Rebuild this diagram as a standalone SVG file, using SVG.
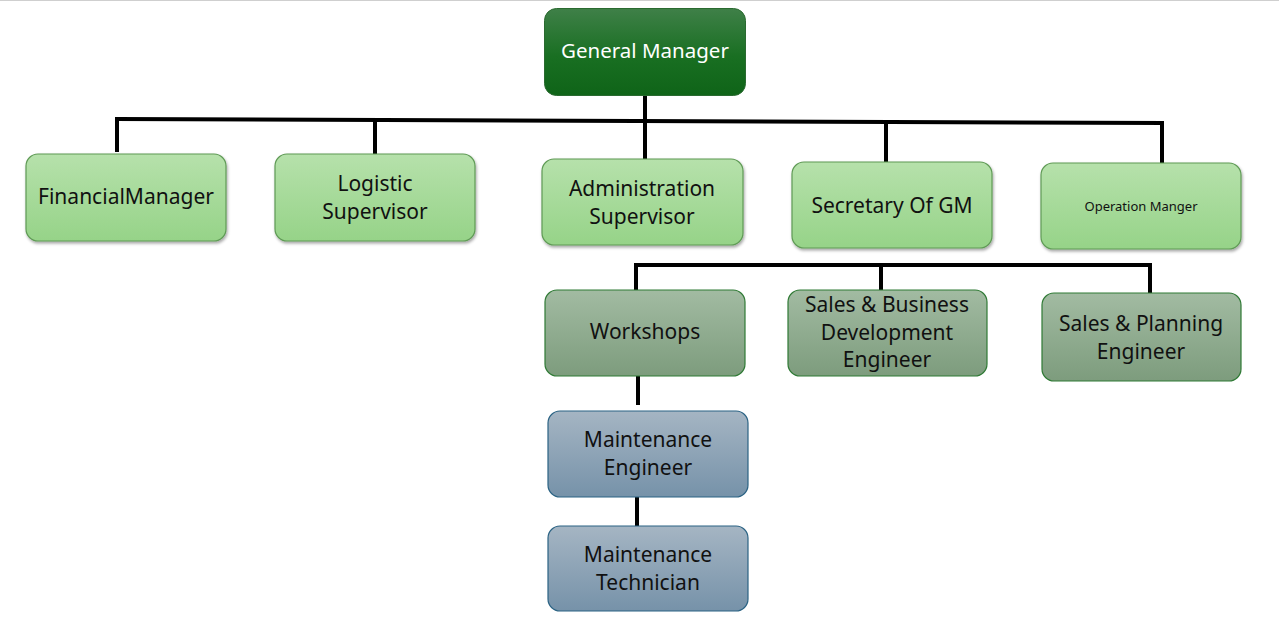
<svg xmlns="http://www.w3.org/2000/svg" width="1279" height="628" viewBox="0 0 1279 628">
<defs>
<linearGradient id="gDark" x1="0" y1="0" x2="0" y2="1"><stop offset="0" stop-color="#3f8048"/><stop offset="0.55" stop-color="#196f22"/><stop offset="1" stop-color="#0f6418"/></linearGradient>
<linearGradient id="gLight" x1="0" y1="0" x2="0" y2="1"><stop offset="0" stop-color="#b6e1ab"/><stop offset="1" stop-color="#96d388"/></linearGradient>
<linearGradient id="gSage" x1="0" y1="0" x2="0" y2="1"><stop offset="0" stop-color="#a2bba2"/><stop offset="1" stop-color="#7d9c7d"/></linearGradient>
<linearGradient id="gBlue" x1="0" y1="0" x2="0" y2="1"><stop offset="0" stop-color="#a5b5c3"/><stop offset="1" stop-color="#7692a9"/></linearGradient>
<filter id="sh" x="-10%" y="-10%" width="120%" height="130%"><feDropShadow dx="1" dy="2" stdDeviation="1.5" flood-color="#000" flood-opacity="0.35"/></filter>
</defs>
<style>
text{font-family:"Noto Sans","Open Sans","Liberation Sans",sans-serif;font-size:21px;fill:#111;text-anchor:middle}
.dark rect{fill:url(#gDark);stroke:#2a6a30;stroke-width:1}
.dark text{fill:#fff}
.light rect{fill:url(#gLight);stroke:#5f9a55;stroke-width:1.2;filter:url(#sh)}
.sage rect{fill:url(#gSage);stroke:#2f7a35;stroke-width:1.2}
.blue rect{fill:url(#gBlue);stroke:#2b6384;stroke-width:1.2}
.conn line{stroke:#000;stroke-width:4;stroke-linecap:square}
</style>
<rect x="0" y="0" width="1279" height="628" fill="#fff"/>
<line x1="0" y1="0.5" x2="1279" y2="0.5" stroke="#cfcfcf" stroke-width="1"/>
<g id="connectors" class="conn">
<line x1="645" y1="96" x2="645" y2="120"/>
<line x1="117" y1="119" x2="1162" y2="123"/>
<line x1="117" y1="119" x2="117" y2="150"/>
<line x1="375" y1="120" x2="375" y2="153"/>
<line x1="645" y1="120" x2="645" y2="158"/>
<line x1="886" y1="122" x2="886" y2="161"/>
<line x1="1162" y1="123" x2="1162" y2="161"/>
<line x1="636" y1="265" x2="1150" y2="265"/>
<line x1="636" y1="265" x2="636" y2="289"/>
<line x1="881" y1="265" x2="881" y2="292"/>
<line x1="1150" y1="265" x2="1150" y2="293"/>
<line x1="638" y1="377" x2="638" y2="403"/>
<line x1="637" y1="498" x2="637" y2="524"/>
</g>
<g id="general-manager" class="dark"><rect x="544.5" y="8.5" width="201" height="87" rx="12"/><text x="645" y="58" style="font-size:20.5px">General Manager</text></g>
<g id="financial-manager" class="light"><rect x="26" y="154" width="200" height="87" rx="12"/><text x="126" y="204" textLength="176" lengthAdjust="spacingAndGlyphs">FinancialManager</text></g>
<g id="logistic-supervisor" class="light"><rect x="275" y="154" width="200" height="87" rx="12"/><text x="375" y="191">Logistic</text><text x="375" y="219">Supervisor</text></g>
<g id="administration-supervisor" class="light"><rect x="542" y="159" width="201" height="86" rx="12"/><text x="642" y="196">Administration</text><text x="642" y="224">Supervisor</text></g>
<g id="secretary-of-gm" class="light"><rect x="792" y="162" width="200" height="86" rx="12"/><text x="892" y="213">Secretary Of GM</text></g>
<g id="operation-manger" class="light"><rect x="1041" y="163" width="200" height="86" rx="12"/><text x="1141" y="211" style="font-size:13px">Operation Manger</text></g>
<g id="workshops" class="sage"><rect x="545" y="290" width="200" height="86" rx="12"/><text x="645" y="339">Workshops</text></g>
<g id="sales-business" class="sage"><rect x="788" y="290" width="199" height="86" rx="12"/><text x="887" y="312">Sales &amp; Business</text><text x="887" y="340">Development</text><text x="887" y="367">Engineer</text></g>
<g id="sales-planning" class="sage"><rect x="1042" y="293" width="199" height="88" rx="12"/><text x="1141" y="331">Sales &amp; Planning</text><text x="1141" y="359">Engineer</text></g>
<g id="maintenance-engineer" class="blue"><rect x="548" y="411" width="200" height="86" rx="12"/><text x="648" y="447">Maintenance</text><text x="648" y="475">Engineer</text></g>
<g id="maintenance-technician" class="blue"><rect x="548" y="526" width="200" height="85" rx="12"/><text x="648" y="562">Maintenance</text><text x="648" y="590">Technician</text></g>
</svg>
